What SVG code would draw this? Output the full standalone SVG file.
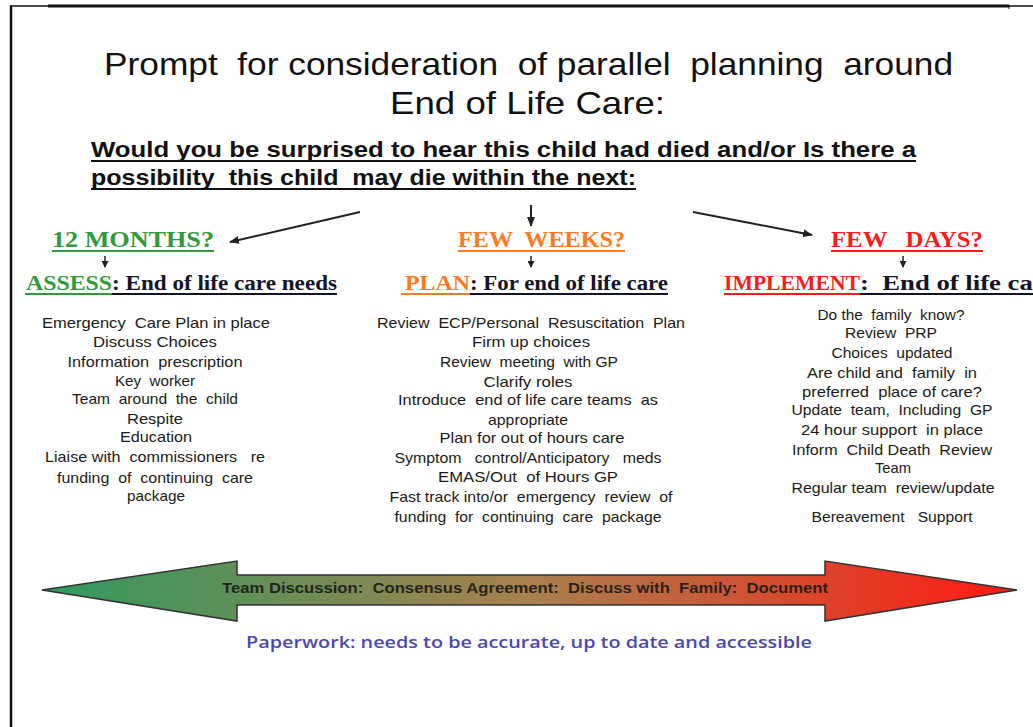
<svg xmlns="http://www.w3.org/2000/svg" width="1033" height="727" viewBox="0 0 1033 727">
<style>
text{white-space:pre}
.title{font-family:"Liberation Sans",Arial,sans-serif;font-size:32px;fill:#111;text-anchor:start}
.sub{font-family:"Liberation Sans",Arial,sans-serif;font-size:22px;font-weight:bold;fill:#111}
.head{font-family:"Liberation Serif","Times New Roman",serif;font-size:24px;font-weight:bold}
.sub2{font-family:"Liberation Serif","Times New Roman",serif;font-size:20px;font-weight:bold}
.item{font-family:"Liberation Sans",Arial,sans-serif;font-size:14.5px;fill:#1a1a1a;text-anchor:middle}
.green{fill:#2f9a3a}
.orange{fill:#ff7a1e}
.red{fill:#ff1a1a}
.dark{fill:#141428}
.conn{stroke:#222;stroke-width:2;fill:none}
.small{stroke:#222;stroke-width:1.5;fill:none}
.ul{stroke-width:2}
</style>
<defs>
<marker id="ah" markerWidth="10" markerHeight="8" refX="9" refY="4" orient="auto" markerUnits="userSpaceOnUse">
<path d="M0,0 L10,4 L0,8 Z" fill="#222"/>
</marker>
<marker id="ahs" markerWidth="7" markerHeight="7" refX="6" refY="3.5" orient="auto" markerUnits="userSpaceOnUse">
<path d="M0,0 L7,3.5 L0,7 Z" fill="#222"/>
</marker>
<linearGradient id="grad" x1="42" y1="0" x2="1017" y2="0" gradientUnits="userSpaceOnUse">
<stop offset="0" stop-color="#2f9a60"/>
<stop offset="0.5" stop-color="#a8804e"/>
<stop offset="1" stop-color="#ff1a12"/>
</linearGradient>
</defs>
<rect width="1033" height="727" fill="#fff"/>
<g id="frame">
<line x1="10" y1="6" x2="1033" y2="6" stroke="#111" stroke-width="1.5"/>
<line x1="48" y1="6" x2="1009" y2="6" stroke="#111" stroke-width="3"/>
<line x1="1009" y1="5" x2="1009" y2="9" stroke="#111" stroke-width="1"/>
<line x1="11" y1="5.5" x2="11" y2="727" stroke="#111" stroke-width="2.5"/>
</g>
<g id="title">
<text class="title" x="104" y="75" textLength="849" lengthAdjust="spacingAndGlyphs">Prompt  for consideration  of parallel  planning  around</text>
<text class="title" x="390" y="114" textLength="275" lengthAdjust="spacingAndGlyphs">End of Life Care:</text>
</g>
<g id="question">
<text class="sub" x="91" y="157" textLength="825" lengthAdjust="spacingAndGlyphs">Would you be surprised to hear this child had died and/or Is there a</text>
<text class="sub" x="91" y="185" textLength="545" lengthAdjust="spacingAndGlyphs">possibility  this child  may die within the next:</text>
<line x1="91" y1="161" x2="916" y2="161" stroke="#111" stroke-width="2"/>
<line x1="91" y1="189" x2="636" y2="189" stroke="#111" stroke-width="2"/>
</g>
<g id="connectors">
<line class="conn" x1="360" y1="212" x2="230" y2="242" marker-end="url(#ah)"/>
<line class="conn" x1="531" y1="205" x2="531" y2="226" marker-end="url(#ah)"/>
<line class="conn" x1="693" y1="212" x2="812" y2="235" marker-end="url(#ah)"/>
<line class="small" x1="105" y1="256" x2="105" y2="267" marker-end="url(#ahs)"/>
<line class="small" x1="531" y1="256" x2="531" y2="267" marker-end="url(#ahs)"/>
<line class="small" x1="903" y1="256" x2="903" y2="267" marker-end="url(#ahs)"/>
</g>
<g id="months">
<text class="head green" x="52" y="247" textLength="162" lengthAdjust="spacingAndGlyphs">12 MONTHS?</text>
<line class="ul" x1="52" y1="251" x2="214" y2="251" stroke="#2f9a3a"/>
<text class="sub2 green" x="26" y="290" textLength="86" lengthAdjust="spacingAndGlyphs">ASSESS</text>
<text class="sub2 dark" x="112" y="290" textLength="225" lengthAdjust="spacingAndGlyphs">: End of life care needs</text>
<line class="ul" x1="25" y1="294" x2="112" y2="294" stroke="#2f9a3a"/>
<line class="ul" x1="112" y1="294" x2="337" y2="294" stroke="#141428"/>
<text class="item" x="156" y="328" textLength="228" lengthAdjust="spacingAndGlyphs">Emergency  Care Plan in place</text>
<text class="item" x="155" y="347" textLength="124" lengthAdjust="spacingAndGlyphs">Discuss Choices</text>
<text class="item" x="155" y="367" textLength="175" lengthAdjust="spacingAndGlyphs">Information  prescription</text>
<text class="item" x="155" y="386" textLength="80" lengthAdjust="spacingAndGlyphs">Key  worker</text>
<text class="item" x="155" y="404" textLength="166" lengthAdjust="spacingAndGlyphs">Team  around  the  child</text>
<text class="item" x="155" y="424" textLength="56" lengthAdjust="spacingAndGlyphs">Respite</text>
<text class="item" x="156" y="442" textLength="72" lengthAdjust="spacingAndGlyphs">Education</text>
<text class="item" x="155" y="462" textLength="220" lengthAdjust="spacingAndGlyphs">Liaise with  commissioners   re</text>
<text class="item" x="155" y="483" textLength="196" lengthAdjust="spacingAndGlyphs">funding  of  continuing  care</text>
<text class="item" x="156" y="501" textLength="58" lengthAdjust="spacingAndGlyphs">package</text>
</g>
<g id="weeks">
<text class="head orange" x="458" y="247" textLength="167" lengthAdjust="spacingAndGlyphs">FEW  WEEKS?</text>
<line class="ul" x1="458" y1="251" x2="625" y2="251" stroke="#ff7a1e"/>
<text class="sub2 orange" x="405" y="290" textLength="65" lengthAdjust="spacingAndGlyphs">PLAN</text>
<text class="sub2 dark" x="470" y="290" textLength="198" lengthAdjust="spacingAndGlyphs">: For end of life care</text>
<line class="ul" x1="401" y1="294" x2="470" y2="294" stroke="#ff7a1e"/>
<line class="ul" x1="470" y1="294" x2="668" y2="294" stroke="#141428"/>
<text class="item" x="531" y="328" textLength="308" lengthAdjust="spacingAndGlyphs">Review  ECP/Personal  Resuscitation  Plan</text>
<text class="item" x="531" y="347" textLength="118" lengthAdjust="spacingAndGlyphs">Firm up choices</text>
<text class="item" x="529" y="367" textLength="178" lengthAdjust="spacingAndGlyphs">Review  meeting  with GP</text>
<text class="item" x="528" y="387" textLength="89" lengthAdjust="spacingAndGlyphs">Clarify roles</text>
<text class="item" x="528" y="405" textLength="260" lengthAdjust="spacingAndGlyphs">Introduce  end of life care teams  as</text>
<text class="item" x="528" y="425" textLength="80" lengthAdjust="spacingAndGlyphs">appropriate</text>
<text class="item" x="532" y="443" textLength="185" lengthAdjust="spacingAndGlyphs">Plan for out of hours care</text>
<text class="item" x="528" y="463" textLength="267" lengthAdjust="spacingAndGlyphs">Symptom   control/Anticipatory   meds</text>
<text class="item" x="528" y="482" textLength="180" lengthAdjust="spacingAndGlyphs">EMAS/Out  of Hours GP</text>
<text class="item" x="531" y="502" textLength="283" lengthAdjust="spacingAndGlyphs">Fast track into/or  emergency  review  of</text>
<text class="item" x="528" y="522" textLength="267" lengthAdjust="spacingAndGlyphs">funding  for  continuing  care  package</text>
</g>
<g id="days">
<text class="head red" x="831" y="247" textLength="152" lengthAdjust="spacingAndGlyphs">FEW   DAYS?</text>
<line class="ul" x1="831" y1="251" x2="983" y2="251" stroke="#ff1a1a"/>
<text class="sub2 red" x="724" y="290" textLength="136" lengthAdjust="spacingAndGlyphs">IMPLEMENT</text>
<text class="sub2 dark" x="860" y="290" textLength="196" lengthAdjust="spacingAndGlyphs">:  End of life care</text>
<line class="ul" x1="724" y1="294" x2="860" y2="294" stroke="#ff1a1a"/>
<line class="ul" x1="860" y1="294" x2="1033" y2="294" stroke="#141428"/>
<text class="item" x="891" y="320" textLength="147" lengthAdjust="spacingAndGlyphs">Do the  family  know?</text>
<text class="item" x="891" y="338" textLength="92" lengthAdjust="spacingAndGlyphs">Review  PRP</text>
<text class="item" x="892" y="358" textLength="121" lengthAdjust="spacingAndGlyphs">Choices  updated</text>
<text class="item" x="892" y="378" textLength="170" lengthAdjust="spacingAndGlyphs">Are child and  family  in</text>
<text class="item" x="892" y="397" textLength="180" lengthAdjust="spacingAndGlyphs">preferred  place of care?</text>
<text class="item" x="892" y="415" textLength="201" lengthAdjust="spacingAndGlyphs">Update  team,  Including  GP</text>
<text class="item" x="892" y="435" textLength="182" lengthAdjust="spacingAndGlyphs">24 hour support  in place</text>
<text class="item" x="892" y="455" textLength="200" lengthAdjust="spacingAndGlyphs">Inform  Child Death  Review</text>
<text class="item" x="893" y="473" textLength="36" lengthAdjust="spacingAndGlyphs">Team</text>
<text class="item" x="893" y="493" textLength="203" lengthAdjust="spacingAndGlyphs">Regular team  review/update</text>
<text class="item" x="892" y="522" textLength="161" lengthAdjust="spacingAndGlyphs">Bereavement   Support</text>
</g>
<g id="bigarrow">
<path d="M42,590 L237,561 L237,575 L825,575 L825,561 L1017,590 L825,621 L825,605 L237,605 L237,621 Z" fill="url(#grad)" stroke="#333" stroke-width="1.5"/>
<text x="222" y="593" textLength="606" lengthAdjust="spacingAndGlyphs" font-family="'Liberation Sans',Arial,sans-serif" font-size="14" font-weight="bold" fill="#1a1a1a" opacity="0.9">Team Discussion:  Consensus Agreement:  Discuss with  Family:  Document</text>
</g>
<g id="paperwork">
<text x="246" y="648" textLength="566" lengthAdjust="spacingAndGlyphs" font-family="'Open Sans','Liberation Sans',sans-serif" font-size="17" font-weight="600" fill="#4a48b0">Paperwork: needs to be accurate, up to date and accessible</text>
</g>
</svg>
